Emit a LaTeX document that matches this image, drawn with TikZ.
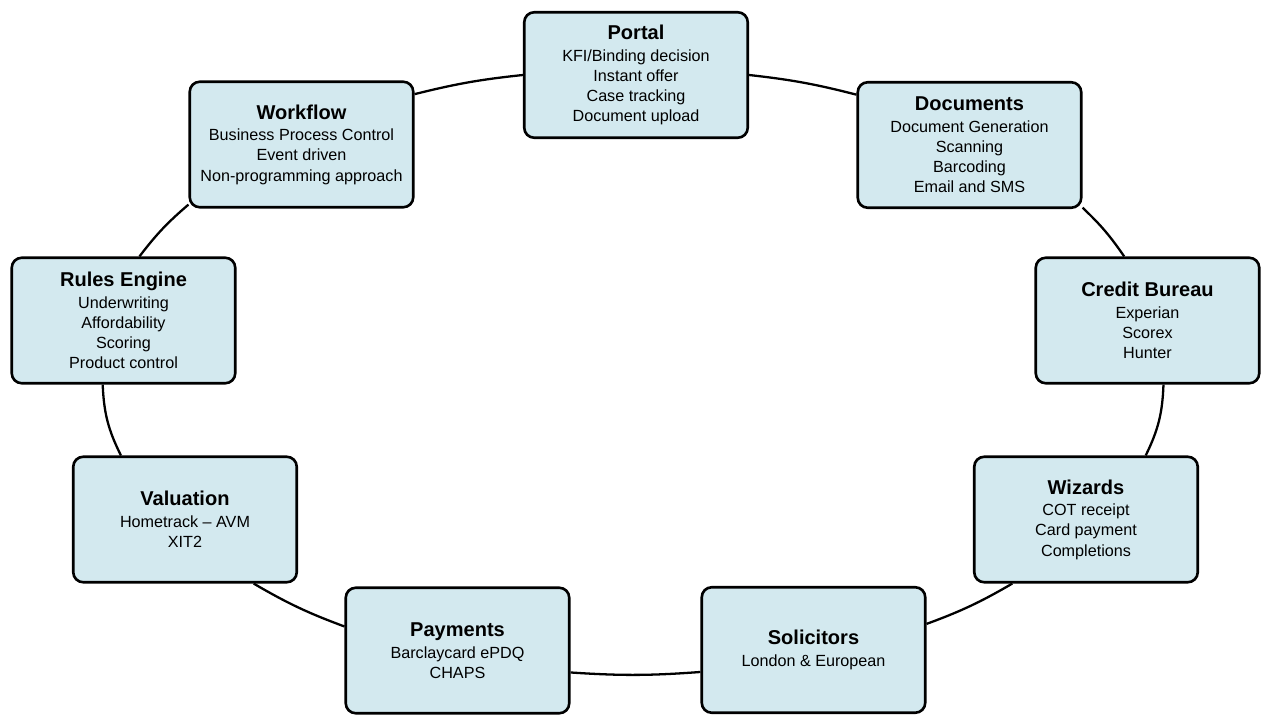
\documentclass[tikz,border=0pt]{standalone}
\usepackage{fontspec}
\setmainfont{Liberation Sans}
\usetikzlibrary{backgrounds}
\definecolor{boxfill}{RGB}{211,233,239}
\tikzset{
  block/.style={draw=black, line width=1.5pt, fill=boxfill, rounded corners=0.2cm,
    minimum width=4.47cm, minimum height=2.51cm, align=center, inner sep=0pt,
    font=\fontsize{9.2}{11.4}\selectfont},
  ring/.style={draw=black, line width=1.3pt}
}
\newcommand{\boxtitle}[1]{{\fontsize{11.4}{13}\selectfont\bfseries #1}\\[1pt]}

\begin{document}
\begin{tikzpicture}
      \useasboundingbox (0,0) rectangle (25.3,-14.32);
      \draw
        (12.72,-1.50) node[block] (portal){\boxtitle{Portal}KFI/Binding decision\\Instant offer\\Case tracking\\Document upload}
        (19.39,-2.90) node[block] (documents){\boxtitle{Documents}Document Generation\\Scanning\\Barcoding\\Email and SMS}
        (22.95,-6.41) node[block] (credit){\boxtitle{Credit Bureau}Experian\\Scorex\\Hunter}
        (21.72,-10.39) node[block] (wizards){\boxtitle{Wizards}COT receipt\\Card payment\\Completions}
        (16.27,-13.00) node[block] (solicitors){\boxtitle{Solicitors}London \& European}
        (9.15,-13.01) node[block] (payments){\boxtitle{Payments}Barclaycard ePDQ\\CHAPS}
        (3.70,-10.39) node[block] (valuation){\boxtitle{Valuation}Hometrack -- AVM\\XIT2}
        (2.47,-6.41) node[block] (rules){\boxtitle{Rules Engine}Underwriting\\Affordability\\Scoring\\Product control}
        (6.03,-2.89) node[block] (workflow){\boxtitle{Workflow}Business Process Control\\Event driven\\Non-programming approach};
      \begin{scope}[on background layer]
        \draw[ring] (portal.0) to[bend left=4] (documents.156);
        \draw[ring] (documents.331) to[bend left=6] (credit.110);
        \draw[ring] (credit.284) to[bend left=12] (wizards.47);
        \draw[ring] (wizards.221) to[bend left=5] (solicitors.13);
        \draw[ring] (solicitors.191) to[bend left=4] (payments.349);
        \draw[ring] (payments.168) to[bend left=5] (valuation.317);
        \draw[ring] (valuation.135) to[bend left=12] (rules.252);
        \draw[ring] (rules.76) to[bend left=6] (workflow.208);
        \draw[ring] (workflow.24) to[bend left=4] (portal.180);
      \end{scope}
    \end{tikzpicture}
\end{document}
